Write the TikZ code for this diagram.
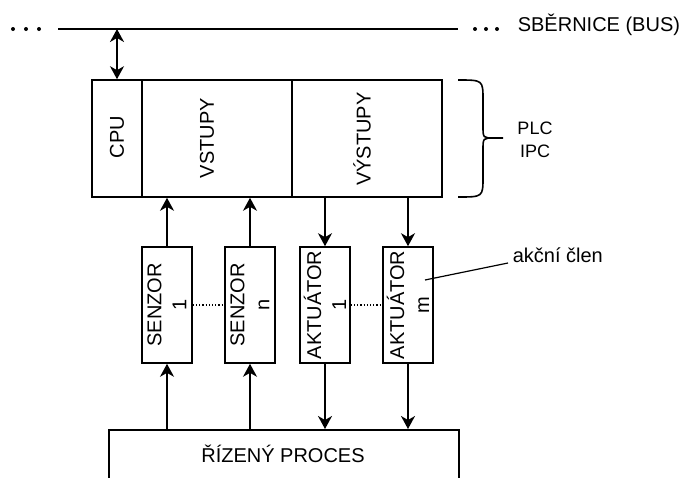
\documentclass[tikz,border=0pt]{standalone}
\usepackage{fontspec}
\setmainfont{Liberation Sans}
\usetikzlibrary{arrows.meta}
\begin{document}
\begin{tikzpicture}[x=1pt,y=-1pt, line width=1.6pt,
  box/.style={draw, rectangle, minimum width=50pt, minimum height=116pt, inner sep=0pt},
  arr/.style={-{Stealth[length=13pt,width=14pt,inset=4pt]}},
  dbl/.style={{Stealth[length=13pt,width=14pt,inset=4pt]}-{Stealth[length=13pt,width=14pt,inset=4pt]}},
  txt/.style={font=\fontsize{20}{25}\selectfont, inner sep=0pt},
  vtxt/.style={txt, rotate=90, align=center},
  dot/.style={circle, fill, inner sep=0pt, minimum size=4pt}]
\useasboundingbox (0,0) rectangle (680,477);

% bus
\coordinate (busL) at (58,29);
\coordinate (busR) at (458,29);
\draw (busL) -- (busR);
\node[dot] (dl1) at (13,29) {};
\node[dot] (dl2) at (26,29) {};
\node[dot] (dl3) at (39,29) {};
\node[dot] (dr1) at (475,29) {};
\node[dot] (dr2) at (486,29) {};
\node[dot] (dr3) at (497,29) {};
\node[txt, anchor=west] (bus) at (517,25) {SBĚRNICE (BUS)};

% PLC block
\node[box, minimum width=50pt, minimum height=117pt] (cpu) at (117,138.5) {};
\node[box, minimum width=150pt, minimum height=117pt] (vst) at (217,138.5) {};
\node[box, minimum width=150pt, minimum height=117pt] (vyst) at (367,138.5) {};
\node[vtxt] (cpuT) at (117,137) {CPU};
\node[vtxt] (vstT) at (207,138) {VSTUPY};
\node[vtxt] (vystT) at (362,139) {VÝSTUPY};

\draw[dbl] (cpu.north |- busL) -- (cpu.north);

% brace
\draw (458,80) .. controls (483,80) .. (483,100) -- (483,126)
      .. controls (483,138) .. (494,138) -- (503,138)
      (494,138) .. controls (483,138) .. (483,150) -- (483,177)
      .. controls (483,197) .. (458,197);
\node[font=\fontsize{18}{23}\selectfont, inner sep=0pt, align=center] (plc) at (535,139.5) {PLC\\IPC};

% sensors / actuators
\node[box] (s1) at (167,305) {};
\node[box] (sn) at (250,305) {};
\node[box] (a1) at (325,305) {};
\node[box] (am) at (408,305) {};
\node[vtxt] at (s1) {SENZOR\\1};
\node[vtxt] at (sn) {SENZOR\\n};
\node[vtxt] at (a1) {AKTUÁTOR\\1};
\node[vtxt] at (am) {AKTUÁTOR\\m};

\draw[dotted, line width=1.2pt] (s1.east) -- (sn.west);
\draw[dotted, line width=1.2pt] (a1.east) -- (am.west);

% process
\node[draw, rectangle, minimum width=350pt, minimum height=70pt, inner sep=0pt, anchor=north west] (proc) at (108,429) {};
\node[txt] (procT) at (283,454) {ŘÍZENÝ PROCES};

% arrows
\draw[arr] (proc.north -| s1) -- (s1.south);
\draw[arr] (proc.north -| sn) -- (sn.south);
\draw[arr] (s1.north) -- (s1.north |- vst.south);
\draw[arr] (sn.north) -- (sn.north |- vst.south);
\draw[arr] (a1.north |- vyst.south) -- (a1.north);
\draw[arr] (am.north |- vyst.south) -- (am.north);
\draw[arr] (a1.south) -- (a1.south |- proc.north);
\draw[arr] (am.south) -- (am.south |- proc.north);

% annotation
\node[txt, anchor=west] (akc) at (512,255) {akční člen};
\coordinate (annS) at (425,280);
\draw[line width=1.2pt] (annS) -- (508,263);
\end{tikzpicture}
\end{document}
